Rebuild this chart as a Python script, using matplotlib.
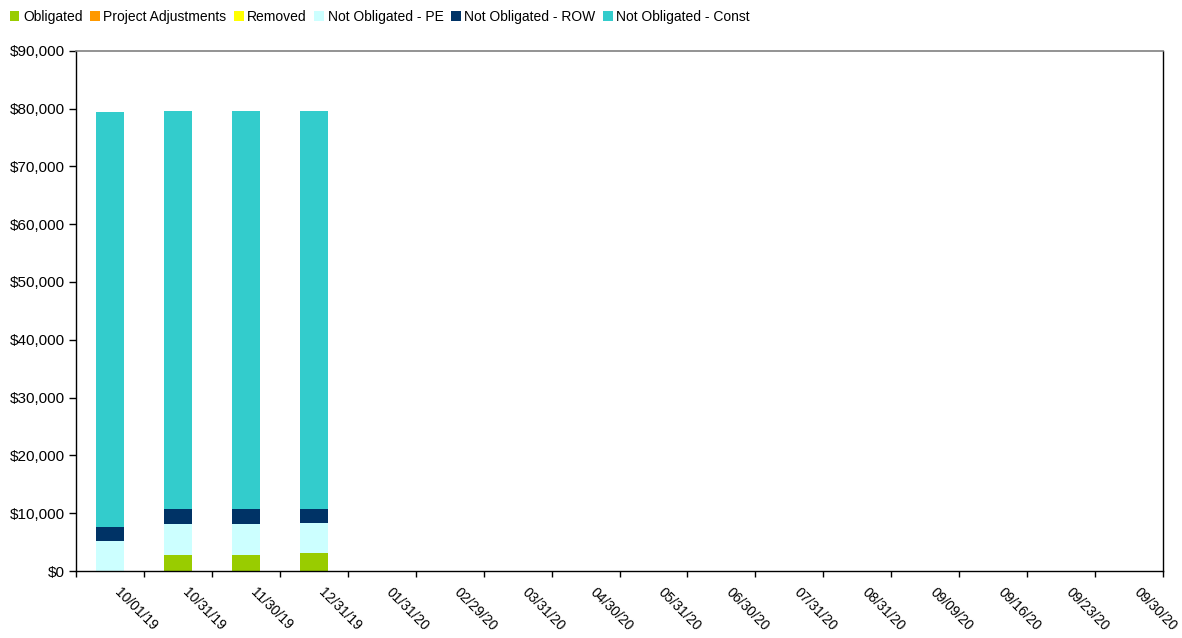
import numpy as np
import matplotlib
matplotlib.use('Agg')
import matplotlib.pyplot as plt
from matplotlib.ticker import FuncFormatter, FixedLocator
from matplotlib.transforms import ScaledTranslation

plt.rcParams['font.family'] = ['Liberation Sans', 'DejaVu Sans']

# data
dates = ['10/01/19', '10/31/19', '11/30/19', '12/31/19', '01/31/20', '02/29/20',
         '03/31/20', '04/30/20', '05/31/20', '06/30/20', '07/31/20', '08/31/20',
         '09/09/20', '09/16/20', '09/23/20', '09/30/20']
obligated = [0, 2770, 2770, 3120] + [0] * 12
project_adj = [0] * 16
removed = [0] * 16
not_obl_pe = [5200, 5360, 5360, 5190] + [0] * 12
not_obl_row = [2420, 2600, 2600, 2420] + [0] * 12
not_obl_const = [71750, 68810, 68810, 68810] + [0] * 12

series = [
    ('Obligated', obligated, '#99CC00'),
    ('Project Adjustments', project_adj, '#FF9900'),
    ('Removed', removed, '#FFFF00'),
    ('Not Obligated - PE', not_obl_pe, '#CCFFFF'),
    ('Not Obligated - ROW', not_obl_row, '#003366'),
    ('Not Obligated - Const', not_obl_const, '#33CCCC'),
]

fig = plt.figure(figsize=(11.82, 6.38), dpi=100)
ax = fig.add_axes([0.0643, 0.105, 0.9197, 0.8155])

x = np.arange(len(dates))
bottom = np.zeros(len(dates))
handles = []
for name, vals, color in series:
    vals = np.array(vals, dtype=float)
    b = ax.bar(x, vals, width=0.41, bottom=bottom, color=color, label=name, linewidth=0)
    handles.append(b)
    bottom += vals

ax.set_xlim(-0.5, len(dates) - 0.5)
ax.set_ylim(0, 90000)
ax.yaxis.set_major_locator(FixedLocator(np.arange(0, 90001, 10000)))
ax.yaxis.set_major_formatter(FuncFormatter(lambda v, p: '${:,.0f}'.format(v)))
ax.tick_params(axis='y', length=5, width=1, labelsize=11, direction='out', pad=3)

# ticks at category boundaries, labels at centres
ax.set_xticks(np.arange(-0.5, len(dates), 1.0))
ax.set_xticklabels([])
ax.set_xticks(x, minor=True)
ax.set_xticklabels(dates, minor=True, rotation=-45, ha='left', va='top',
                   rotation_mode='anchor', fontsize=10)
ax.tick_params(axis='x', which='major', length=4, width=1, direction='out')
ax.tick_params(axis='x', which='minor', length=0, pad=10)
offset = ScaledTranslation(12 / 100, 0, fig.dpi_scale_trans)
for lab in ax.get_xticklabels(minor=True):
    lab.set_transform(lab.get_transform() + offset)

for side in ['left', 'bottom', 'right']:
    ax.spines[side].set_color('black')
    ax.spines[side].set_linewidth(1)
ax.spines['top'].set_color('#808080')
ax.spines['top'].set_linewidth(1.2)

fig.legend(handles=handles, loc='upper left', bbox_to_anchor=(0.0, 1.0), ncol=6,
           frameon=False, fontsize=10, handlelength=0.7, handleheight=0.7,
           handletextpad=0.25, columnspacing=0.55, borderaxespad=0.3)

fig.savefig('out.png', dpi=100)
